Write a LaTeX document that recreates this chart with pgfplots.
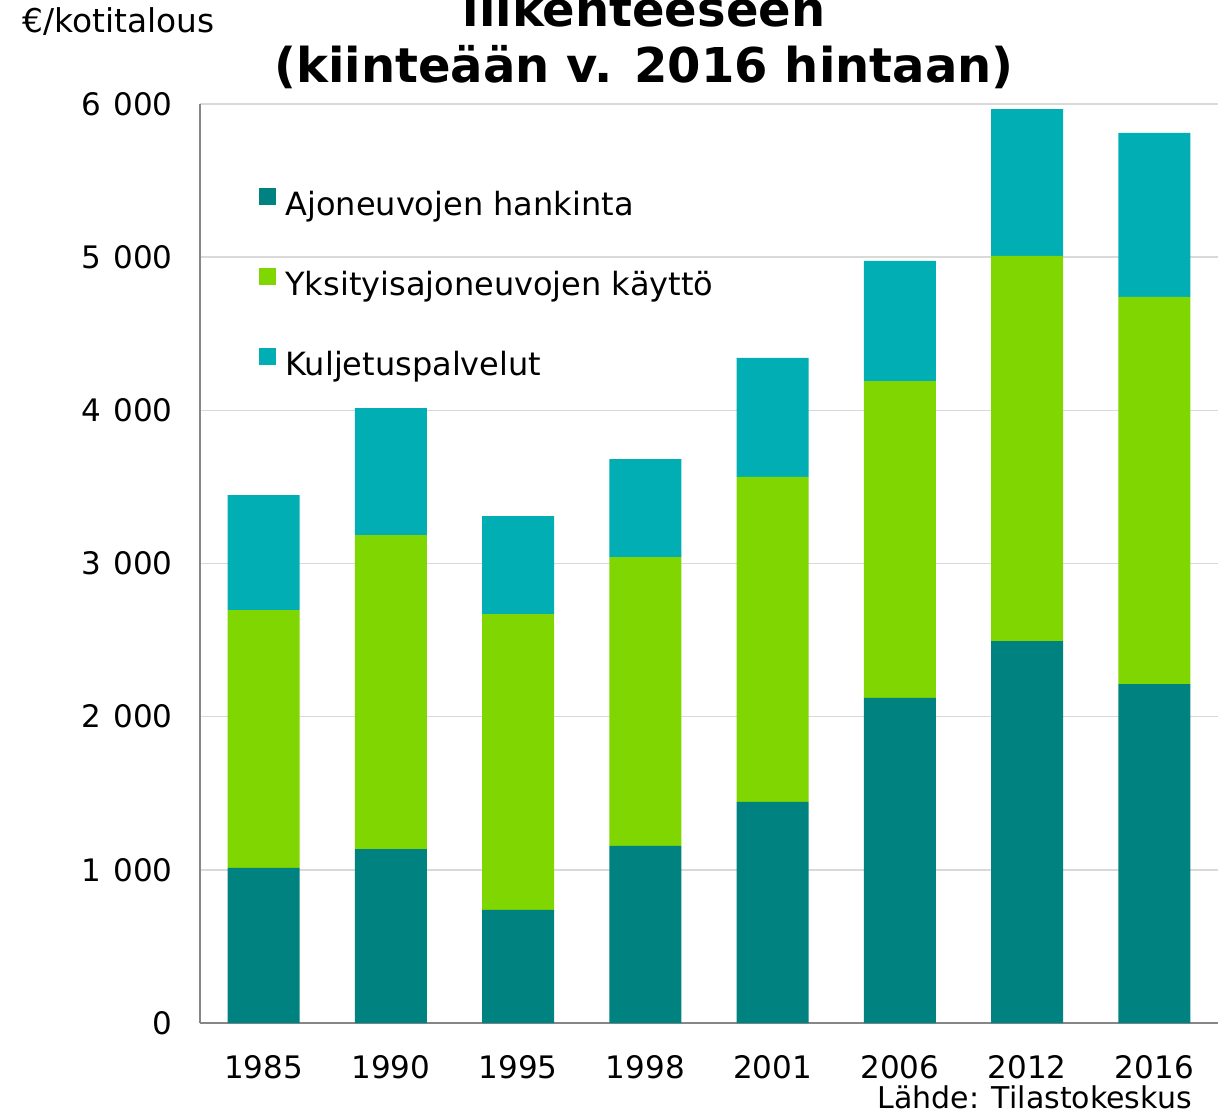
\documentclass[border=0pt]{standalone}
\usepackage{pgfplots}
\pgfplotsset{compat=1.18}
\usepackage{pgfplotstable}
\usepackage{fontspec}
\setmainfont{DejaVu Sans}
\definecolor{cdark}{RGB}{0,130,128}
\definecolor{cgreen}{RGB}{128,214,0}
\definecolor{clight}{RGB}{0,174,179}
\definecolor{cgrid}{RGB}{217,217,217}
\definecolor{caxis}{RGB}{134,134,134}
\pgfplotstableread{
x hank kaytto palv
0 1012 1684 751
1 1136 2050 829
2 738 1932 640
3 1156 1886 640
4 1443 2122 777
5 2122 2069 784
6 2494 2514 959
7 2213 2527 1071
}\datatable
\newcommand{\ts}{\hspace{0.4em}}
\begin{document}
\begin{tikzpicture}
\begin{axis}[
  at={(0,0)}, anchor=south west,
  scale only axis, width=509pt, height=459.5pt,
  ybar stacked, bar width=36pt,
  xmin=-0.5, xmax=7.5, ymin=0, ymax=6000,
  xtick={0,...,7},
  xticklabels={1985,1990,1995,1998,2001,2006,2012,2016},
  ytick={0,1000,...,6000},
  yticklabels={0,1\ts000,2\ts000,3\ts000,4\ts000,5\ts000,6\ts000},
  /pgf/number format/assume math mode=true,
  ymajorgrids, grid style={draw=cgrid, line width=0.8pt},
  axis x line*=bottom, axis y line*=left,
  axis line style={-, draw=caxis, line width=0.9pt},
  major tick length=0pt, tick style={draw=none},
  ticklabel style={font=\fontsize{15.5}{18}\selectfont},
  yticklabel style={anchor=east, inner sep=0pt, xshift=-13.5pt},
  xticklabel style={anchor=base, inner sep=0pt, yshift=-27.5pt},
  legend style={draw=none, fill=none, at={(26.5pt,419.5pt)}, anchor=north west,
    font=\fontsize{16}{19}\selectfont, row sep=23pt,
    nodes={text height=11.5pt, text depth=3.5pt, inner sep=0pt}},
  legend cell align=left,
  legend image code/.code={\fill[#1] (0pt,1pt) rectangle (8.5pt,9.5pt);},
  legend image post style={draw=none},
]
\addplot[fill=cdark, draw=none] table[x=x, y=hank] {\datatable};
\addlegendentry{\hspace{4.5pt}Ajoneuvojen hankinta}
\addplot[fill=cgreen, draw=none] table[x=x, y=kaytto] {\datatable};
\addlegendentry{\hspace{4.5pt}Yksityisajoneuvojen käyttö}
\addplot[fill=clight, draw=none] table[x=x, y=palv] {\datatable};
\addlegendentry{\hspace{4.5pt}Kuljetuspalvelut}
\end{axis}
\node[anchor=base, font=\fontsize{24}{28}\selectfont\bfseries] at (222pt,498pt) {liikenteeseen};
\node[anchor=base, font=\fontsize{24}{28}\selectfont\bfseries] at (222pt,470pt) {(kiinteään v. 2016 hintaan)};
\node[anchor=base west, inner sep=0pt, font=\fontsize{16.4}{19}\selectfont] at (-89pt,495pt) {€/kotitalous};
\node[anchor=base east, inner sep=0pt, font=\fontsize{15}{18}\selectfont] at (496pt,-42.5pt) {Lähde: Tilastokeskus};
\pgfresetboundingbox
\useasboundingbox (-100pt,-45pt) rectangle (515pt,511.5pt);
\end{tikzpicture}
\end{document}
